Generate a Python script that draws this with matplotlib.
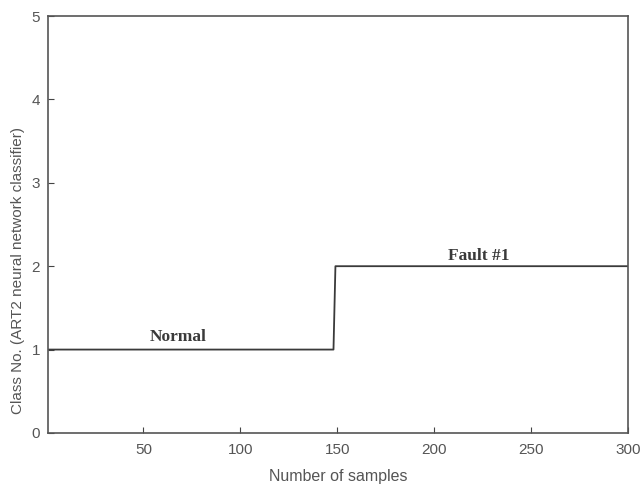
import matplotlib
matplotlib.use("Agg")
import matplotlib.pyplot as plt
import numpy as np

# class output of the ART2 classifier per sample
samples = np.arange(1, 301)
change_at = 149
class_no = np.where(samples < change_at, 1, 2)

xticks = [50, 100, 150, 200, 250, 300]
yticks = [0, 1, 2, 3, 4, 5]

fig = plt.figure(figsize=(6.42, 4.87), dpi=100)
ax = fig.add_axes([0.0755, 0.111, 0.903, 0.856])

ax.plot(samples, class_no, color='#3a3a3a', linewidth=1.3)

ax.set_xlim(1, 300)
ax.set_ylim(0, 5)
ax.set_xticks(xticks)
ax.set_yticks(yticks)
ax.tick_params(direction='in', length=4, labelsize=11, colors='#444444', labelcolor='#555555')
ax.tick_params(axis='x', pad=7)
ax.tick_params(axis='y', pad=6)
for s in ax.spines.values():
    s.set_color('#555555')
    s.set_linewidth(1.2)

ax.set_xlabel('Number of samples', fontsize=11.5, color='#555555', family='Liberation Sans')
ax.xaxis.set_label_coords(0.5, -0.087)
ax.set_ylabel('Class No. (ART2 neural network classifier)', fontsize=11, color='#555555',
              family='Liberation Sans')
ax.yaxis.set_label_coords(-0.04, 0.39)
for lbl in ax.get_xticklabels() + ax.get_yticklabels():
    lbl.set_family('Liberation Sans')

ax.text(53, 1.1, 'Normal', family='Liberation Serif', fontsize=12.5, color='#3a3a3a', weight='bold')
ax.text(207, 2.08, 'Fault #1', family='Liberation Serif', fontsize=12.5, color='#3a3a3a', weight='bold')

fig.savefig('out.png', dpi=100)
